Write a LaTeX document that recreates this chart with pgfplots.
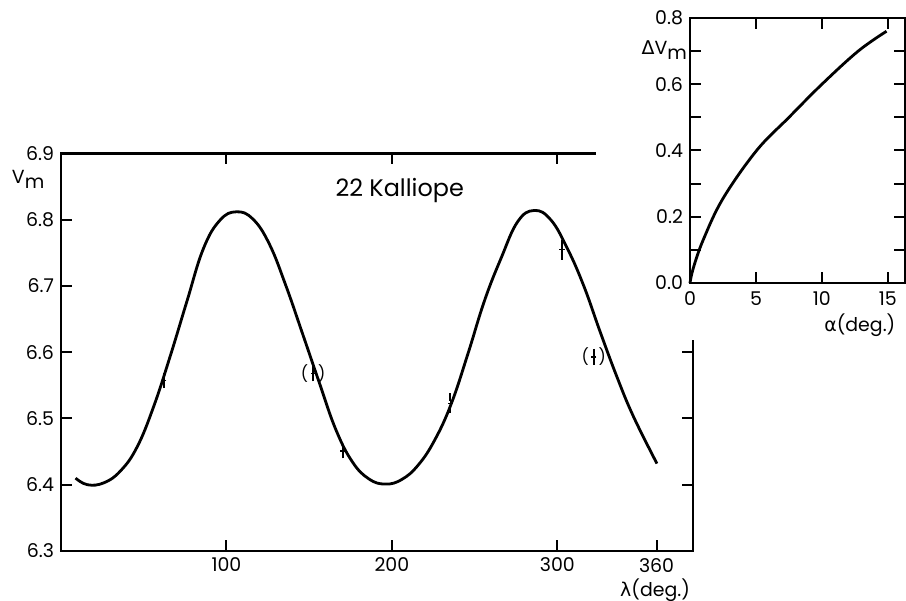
\documentclass[border=0pt]{standalone}
\usepackage{fontspec}
\setmainfont{Poppins}
\newfontfamily\greek{DejaVu Sans}
\usepackage{pgfplots}
\pgfplotsset{compat=1.18}
\pgfplotsset{
  mainbox/.style={
    at={(30.5bp,25bp)}, anchor=south west, scale only axis,
    width=316bp, height=198.75bp,
    xmin=0, xmax=382, ymin=6.3, ymax=6.9, clip=false},
}
\begin{document}
\begin{tikzpicture}
\useasboundingbox (0,0) rectangle (453bp,300.5bp);
% frame of the main panel
\begin{axis}[mainbox,
  xtick={100,200,300,360}, ytick={6.3,6.4,6.5,6.6,6.7,6.8,6.9},
  yticklabel style={/pgf/number format/.cd, fixed, fixed zerofill, precision=1},
  /pgf/number format/assume math mode=true,
  tick align=inside, major tick length=5.5bp,
  axis line style={line width=1.4bp},
  every tick/.style={line width=1bp, black},
  ticklabel style={font=\fontsize{9.5}{11}\selectfont},
]
\addplot[draw=none] coordinates {(100,6.5)};
\end{axis}
\fill[white] (298bp,130.5bp) rectangle (453bp,301bp);
% data of the main panel
\begin{axis}[mainbox, hide axis]
\addplot[line width=1.4bp, smooth, tension=0.7] coordinates {
(8.8,6.410) (16,6.400) (26,6.403) (36,6.421) (46,6.457) (56,6.518) (66,6.594) (76,6.676) (86,6.756) (96,6.799) (106,6.812) (116,6.801) (126,6.763) (136,6.700) (146,6.628) (156,6.555) (166,6.484) (176,6.435) (186,6.409) (196,6.401) (206,6.408) (216,6.430) (226,6.468) (236,6.523) (246,6.598) (256,6.678) (266,6.742) (276,6.797) (286,6.814) (296,6.800) (306,6.757) (316,6.700) (326,6.630) (336,6.563) (346,6.503) (360.2,6.432)
};
\addplot[only marks, mark=-, mark size=1.3bp, mark options={line width=0.7bp},
  error bars/.cd, y dir=both, y explicit, error mark=-,
  error mark options={mark size=2bp, line width=0.9bp},
  error bar style={line width=0.7bp}] coordinates {
(62.1,6.557) +- (0,0.005)
(152.4,6.568) +- (0,0.006)
(170.5,6.451) +- (0,0.005)
(235.3,6.523) +- (0,0.009)
(302.8,6.755) +- (0,0.009)
(322,6.593) +- (0,0.006)
};
\addplot[draw=none, mark=none, nodes near coords={\fontsize{8}{8}\selectfont(\hspace{5bp})},
  nodes near coords align={center}] coordinates {(152.4,6.568) (322,6.593)};
\node[font=\fontsize{12}{14}\selectfont] at (rel axis cs:0.536,0.908) {22 Kalliope};
\node[font=\fontsize{9.5}{11}\selectfont] at (rel axis cs:-0.052,0.935) {V\raisebox{-0.45ex}{m}};
\node[font=\fontsize{9.5}{11}\selectfont] at (rel axis cs:0.94,-0.098) {{\greek λ}(deg.)};
\end{axis}
% inset
\begin{axis}[
  at={(345bp,159bp)}, anchor=south west, scale only axis,
  width=107.5bp, height=132.5bp,
  xmin=0, xmax=16.3, ymin=0, ymax=0.8,
  xtick={0,5,10,15}, ytick={0,0.1,0.2,0.3,0.4,0.5,0.6,0.7,0.8},
  yticklabels={0.0,,0.2,,0.4,,0.6,,0.8},
  /pgf/number format/assume math mode=true,
  tick align=inside, major tick length=5.5bp,
  axis line style={line width=1.4bp},
  every tick/.style={line width=1bp, black},
  ticklabel style={font=\fontsize{9.5}{11}\selectfont},
  xticklabel style={yshift=-1bp},
  clip=false,
]
\addplot[line width=1.4bp, smooth, tension=0.6] coordinates {
(0,0) (0.25,0.045) (1,0.13) (2.5,0.255) (5.05,0.40) (7.5,0.50) (10,0.60) (12.75,0.70) (14.9,0.76)
};
\node[font=\fontsize{9.5}{11}\selectfont] at (rel axis cs:-0.12,0.88) {{\greek Δ}V\raisebox{-0.45ex}{m}};
\node[font=\fontsize{9.5}{11}\selectfont] at (rel axis cs:0.79,-0.16) {{\greek α}(deg.)};
\end{axis}
\end{tikzpicture}
\end{document}
